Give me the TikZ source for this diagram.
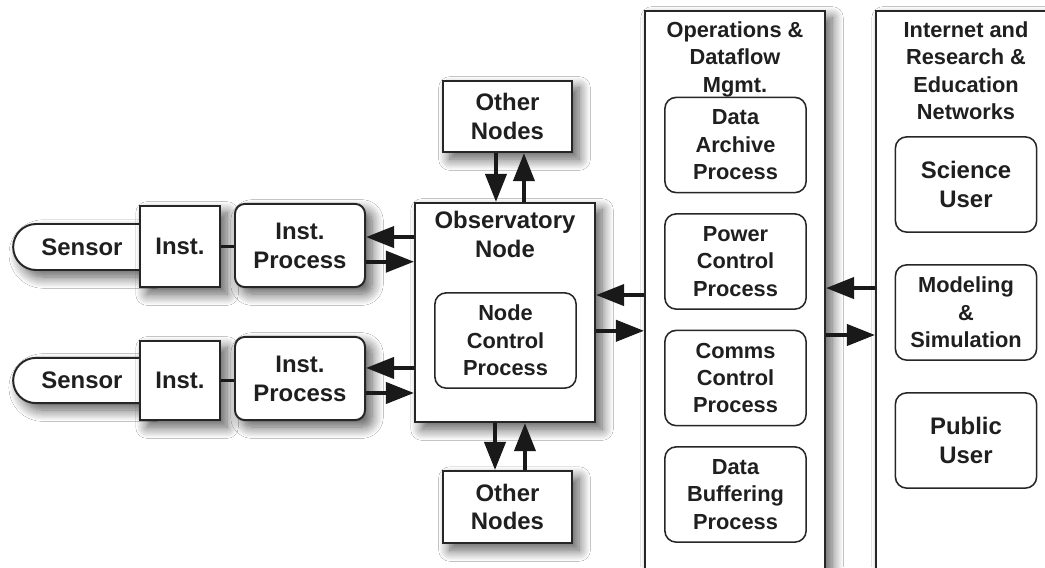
\documentclass[tikz,border=0pt]{standalone}
\usepackage{fontspec}
\setmainfont{Liberation Sans}
\usetikzlibrary{
  arrows.meta,
  positioning,
  calc,
  shapes.misc,
  shadows.blur
}

\begin{document}
\begin{tikzpicture}[x=0.025cm, y=-0.025cm, thick,
    every node/.style={align=center, inner sep=0pt, text=black!88},
    bigtxt/.style={font=\fontsize{17}{20.5}\selectfont\bfseries},
    smalltxt/.style={font=\fontsize{15.5}{19.5}\selectfont\bfseries},
    outerbox/.style={draw=black!85, line width=1.4pt, fill=white,
        blur shadow={shadow xshift=5pt, shadow yshift=-5pt, shadow blur radius=8pt,
                     shadow blur steps=12, shadow opacity=65}},
    innerbox/.style={draw=black!85, line width=1.1pt, fill=white, rounded corners=8pt,
        minimum width=3.53cm, minimum height=2.38cm},
    flowarrow/.style={-{Triangle[length=20pt, width=15pt]}, line width=2.8pt, black!90}]

    \useasboundingbox (0,0) rectangle (1045,567);
    \fill[white] (0,0) rectangle (1045,567);
    \clip (0,0) rectangle (1045,567);

    % Sensoren und Instrumente
    \node[outerbox, bigtxt, rounded rectangle, rounded rectangle right arc=none,
          minimum width=3.4cm, minimum height=1.15cm] (sens1) at (82,247) {Sensor};
    \node[outerbox, bigtxt, minimum width=2cm, minimum height=2.03cm] (inst1) at (180,246.5) {Inst.};
    \node[outerbox, bigtxt, rounded corners=7pt, minimum width=3.25cm, minimum height=2.08cm] (ip1) at (300,245.5) {Inst.\\Process};
    \draw[line width=2.8pt, black!90] (inst1.east) -- (inst1.east -| ip1.west);

    \node[outerbox, bigtxt, rounded rectangle, rounded rectangle right arc=none,
          minimum width=3.4cm, minimum height=1.13cm] (sens2) at (82,380.5) {Sensor};
    \node[outerbox, bigtxt, minimum width=2cm, minimum height=1.98cm] (inst2) at (180,380.5) {Inst.};
    \node[outerbox, bigtxt, rounded corners=7pt, minimum width=3.25cm, minimum height=2.08cm] (ip2) at (300,378.5) {Inst.\\Process};
    \draw[line width=2.8pt, black!90] (inst2.east) -- (inst2.east -| ip2.west);

    % Observatory Node
    \node[outerbox, minimum width=4.5cm, minimum height=5.48cm] (obs) at (505,312.5) {};
    \node[bigtxt, below=6pt of obs.north] (obstitle) {Observatory\\Node};
    \node[innerbox, smalltxt] (ncp) at (505.5,340.5) {Node\\Control\\Process};

    % Other Nodes
    \node[outerbox, bigtxt, minimum width=3.23cm, minimum height=1.78cm] (on1) at (507.5,116.5) {Other\\Nodes};
    \node[outerbox, bigtxt, minimum width=3.23cm, minimum height=1.8cm] (on2) at (507.5,507) {Other\\Nodes};

    % Operations & Dataflow
    \node[outerbox, minimum width=4.5cm, minimum height=14.73cm] (ops) at (735,305.5) {};
    \node[smalltxt, below=8pt of ops.north] (opstitle) {Operations \&\\Dataflow\\Mgmt.};
    \node[innerbox, smalltxt] (dap) at (735.5,145) {Data\\Archive\\Process};
    \node[innerbox, smalltxt] (pcp) at (735.5,261.5) {Power\\Control\\Process};
    \node[innerbox, smalltxt] (ccp) at (735.5,378) {Comms\\Control\\Process};
    \node[innerbox, smalltxt] (dbp) at (735.5,494.5) {Data\\Buffering\\Process};

    % Internet und Nutzer
    \node[outerbox, minimum width=4.5cm, minimum height=14.73cm] (inet) at (966,305.5) {};
    \node[smalltxt, below=8pt of inet.north] (inettitle) {Internet and\\Research \&\\Education\\Networks};
    \node[innerbox, bigtxt] (sci) at (966,184.5) {Science\\User};
    \node[innerbox, smalltxt] (mod) at (966,312.5) {Modeling\\\&\\Simulation};
    \node[innerbox, bigtxt] (pub) at (966,440.5) {Public\\User};

    % Pfeile
    \draw[flowarrow] ([yshift=6pt]ip1.east -| obs.west) -- ([yshift=6pt]ip1.east);
    \draw[flowarrow] ([yshift=-11.5pt]ip1.east) -- ([yshift=-11.5pt]ip1.east -| obs.west);
    \draw[flowarrow] ([yshift=7.5pt]ip2.east -| obs.west) -- ([yshift=7.5pt]ip2.east);
    \draw[flowarrow] ([yshift=-10.3pt]ip2.east) -- ([yshift=-10.3pt]ip2.east -| obs.west);

    \draw[flowarrow] ([xshift=-8.2pt]on1.south) -- ([xshift=-8.2pt]on1.south |- obs.north);
    \draw[flowarrow] ([xshift=11.7pt]on1.south |- obs.north) -- ([xshift=11.7pt]on1.south);
    \draw[flowarrow] ([xshift=-8.9pt]on2.north |- obs.south) -- ([xshift=-8.9pt]on2.north);
    \draw[flowarrow] ([xshift=12.4pt]on2.north) -- ([xshift=12.4pt]on2.north |- obs.south);

    \draw[flowarrow] ([yshift=12.4pt]obs.east -| ops.west) -- ([yshift=12.4pt]obs.east);
    \draw[flowarrow] ([yshift=-13pt]obs.east) -- ([yshift=-13pt]obs.east -| ops.west);
    \draw[flowarrow] ([yshift=17.4pt]mod.west -| inet.west) -- ([yshift=17.4pt]mod.west -| ops.east);
    \draw[flowarrow] ([yshift=-16pt]mod.west -| ops.east) -- ([yshift=-16pt]mod.west -| inet.west);
\end{tikzpicture}
\end{document}
